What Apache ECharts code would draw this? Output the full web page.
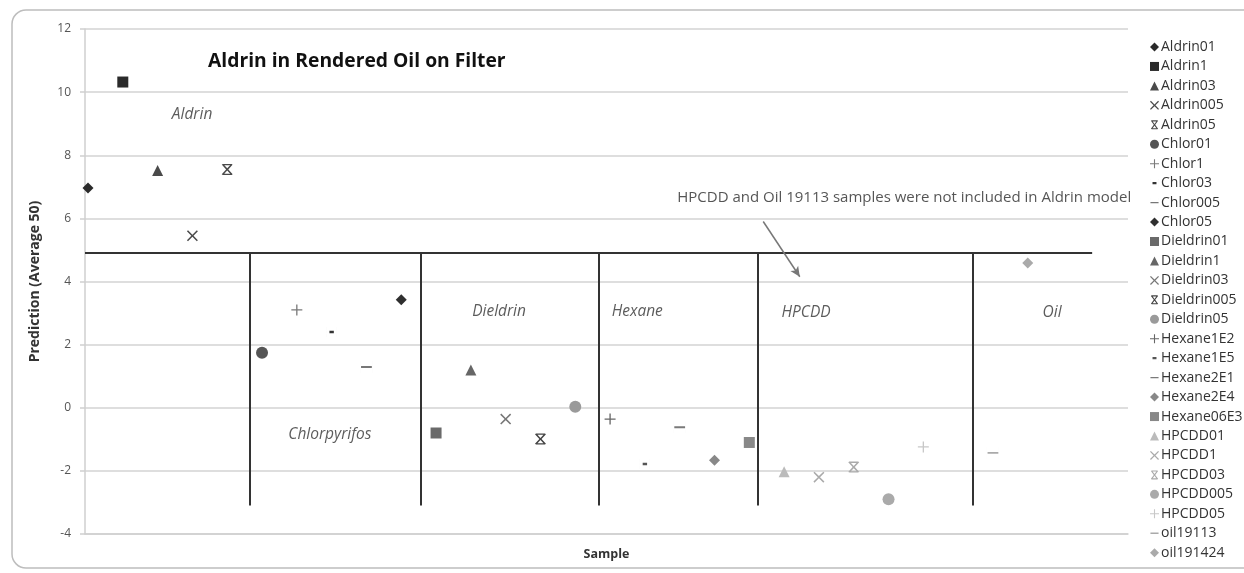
<!DOCTYPE html>
<html><head><meta charset="utf-8">
<script src="https://cdn.jsdelivr.net/npm/echarts@6/dist/echarts.min.js"></script>
<style>html,body{margin:0;padding:0;background:#fff}#c{width:1244px;height:573px}</style>
</head><body><div id="c"></div>
<script>
// ---- data ----
var sampleNames = ['Aldrin01','Aldrin1','Aldrin03','Aldrin005','Aldrin05','Chlor01','Chlor1','Chlor03','Chlor005','Chlor05','Dieldrin01','Dieldrin1','Dieldrin03','Dieldrin005','Dieldrin05','Hexane1E2','Hexane1E5','Hexane2E1','Hexane2E4','Hexane06E3','HPCDD01','HPCDD1','HPCDD03','HPCDD005','HPCDD05','oil19113','oil191424'];
var sampleIndex = [1,2,3,4,5,6,7,8,9,10,11,12,13,14,15,16,17,18,19,20,21,22,23,24,25,27,28];
var predictions = [6.96,10.32,7.52,5.45,7.55,1.74,3.1,2.4,1.29,3.42,-0.8,1.2,-0.36,-0.99,0.03,-0.36,-1.78,-0.62,-1.66,-1.1,-2.03,-2.2,-1.88,-2.9,-1.24,-1.43,4.59];
var yTicks = {min:-4, max:12, interval:2};
var thresholdY = 4.9;
var dividerX = [5.66,10.57,15.68,20.25,26.43];
var dividerBottom = -3.1;
var groupLabels = [['Aldrin',3.99,9.3],['Chlorpyrifos',7.95,-0.86],['Dieldrin',12.81,3.06],['Hexane',16.78,3.06],['HPCDD',21.63,3.0],['Oil',28.7,3.0]];
var noteText = 'HPCDD and Oil 19113 samples were not included in Aldrin model';
var notePos = [24.45,6.65];
var arrowFrom = [20.4,5.9], arrowTo = [21.45,4.15];

// ---- styles ----
var XMIN = 0.914, XMAX = 30.88, LINE_END = 29.85;
var S = {
  diamond: 'diamond',
  square: 'rect',
  triangle: 'triangle',
  circle: 'circle',
  x: 'path://M0,1L1,0L5,4L9,0L10,1L6,5L10,9L9,10L5,6L1,10L0,9L4,5Z',
  star: 'path://M1,0.6L2,0L5,4L8,0L9,0.6L5.8,5L9,9.4L8,10L5,6L2,10L1,9.4L4.2,5Z M1.5,0H8.5V1.2H1.5Z M1.5,8.8H8.5V10H1.5Z',
  plus: 'path://M4.4,0H5.6V4.4H10V5.6H5.6V10H4.4V5.6H0V4.4H4.4Z',
  sdash: 'path://M0,0h0.01v10h-0.01Z M10,0h0.01v10h-0.01Z M2.8,3.8h4.4v2.4h-4.4Z',
  ldash: 'path://M0,0h0.01v10h-0.01Z M10,0h0.01v10h-0.01Z M0.5,4.2h9v1.6h-9Z'
};
var symbols = ['diamond','square','triangle','x','star','circle','plus','sdash','ldash','diamond','square','triangle','x','star','circle','plus','sdash','ldash','diamond','square','triangle','x','star','circle','plus','ldash','diamond'];
var colors = ['#2a2a2a','#2a2a2a','#4a4a4a','#4a4a4a','#4a4a4a','#555555','#7a7a7a','#333333','#777777','#2f2f2f','#6a6a6a','#666666','#777777','#444444','#9a9a9a','#666666','#555555','#7a7a7a','#888888','#888888','#bbbbbb','#aaaaaa','#aaaaaa','#aaaaaa','#c8c8c8','#aaaaaa','#aaaaaa'];
var sizes = {diamond:11,square:11,triangle:11,circle:12,x:11,star:11,plus:11,sdash:10,ldash:12};

var FONT = '"Open Sans", Lato, sans-serif';
var series = sampleNames.map(function(n,i){
  return {
    name:n, type:'scatter', symbol:S[symbols[i]], symbolSize:sizes[symbols[i]],
    itemStyle:{color:colors[i], opacity:1}, emphasis:{disabled:true},
    data:[[sampleIndex[i], predictions[i]]], z:3
  };
});

var lineData = [[{coord:[XMIN,thresholdY]},{coord:[LINE_END,thresholdY]}]];
dividerX.forEach(function(x){ lineData.push([{coord:[x,thresholdY]},{coord:[x,dividerBottom]}]); });

series.push({
  name:'_groups', type:'scatter', symbol:'circle', symbolSize:1, silent:true, z:4,
  itemStyle:{color:'rgba(0,0,0,0)'},
  data: groupLabels.map(function(g){return {name:g[0], value:[g[1],g[2]]};}),
  label:{show:true, position:'inside', formatter:'{b}', fontFamily:FONT, fontStyle:'italic', fontSize:15.5, color:'#333'},
  markLine:{silent:true, symbol:['none','none'], animation:false,
    lineStyle:{color:'#333', width:2, type:'solid'}, label:{show:false}, data:lineData}
});
series.push({
  name:'_note', type:'scatter', symbol:'circle', symbolSize:1, silent:true, z:4,
  itemStyle:{color:'rgba(0,0,0,0)'},
  data:[{name:noteText, value:notePos}],
  label:{show:true, position:'inside', formatter:'{b}', fontFamily:FONT, fontSize:15, color:'#2a2a2a'},
  markLine:{silent:true, symbol:['none','arrow'], symbolSize:[7,10], animation:false,
    lineStyle:{color:'#777', width:1.5, type:'solid'}, label:{show:false},
    data:[[{coord:arrowFrom},{coord:arrowTo}]]}
});

var chart = echarts.init(document.getElementById('c'), null, {renderer:'canvas'});
chart.setOption({
  animation:false,
  backgroundColor:'#fff',
  textStyle:{fontFamily:FONT},
  title:{text:'Aldrin in Rendered Oil on Filter', left:203, top:47,
    textStyle:{fontFamily:FONT, fontSize:19.3, fontWeight:'bold', color:'#111'}},
  graphic:[{type:'rect', shape:{x:12, y:10, width:1260, height:558, r:14}, silent:true, z:-10,
    style:{fill:'none', stroke:'#bdbdbd', lineWidth:1.5}}],
  grid:{left:85, right:116, top:29, bottom:39, containLabel:false},
  xAxis:{type:'value', min:XMIN, max:XMAX, name:'Sample', nameLocation:'middle', nameGap:14,
    nameTextStyle:{fontFamily:FONT, fontWeight:'bold', fontSize:12.5, color:'#333'},
    axisLine:{show:true, onZero:false, lineStyle:{color:'#cfcfcf', width:1.5}},
    axisTick:{show:false}, axisLabel:{show:false}, splitLine:{show:false}},
  yAxis:{type:'value', min:yTicks.min, max:yTicks.max, interval:yTicks.interval,
    name:'Prediction (Average 50)', nameLocation:'middle', nameGap:43,
    nameTextStyle:{fontFamily:FONT, fontWeight:'bold', fontSize:14, color:'#333'},
    axisLine:{show:true, lineStyle:{color:'#cfcfcf', width:1.5}},
    axisTick:{show:true, length:5, lineStyle:{color:'#cfcfcf', width:1.5}},
    axisLabel:{fontFamily:FONT, fontSize:12, color:'#555', margin:14},
    splitLine:{show:true, lineStyle:{color:'#d3d3d3', width:1.5}}},
  legend:{orient:'vertical', left:1145, top:35, itemWidth:9, itemHeight:9, itemGap:5.45,
    data:sampleNames, selectedMode:false,
    textStyle:{fontFamily:FONT, fontSize:14, color:'#333', padding:[0,0,0,-3]}},
  series:series
});
</script></body></html>
